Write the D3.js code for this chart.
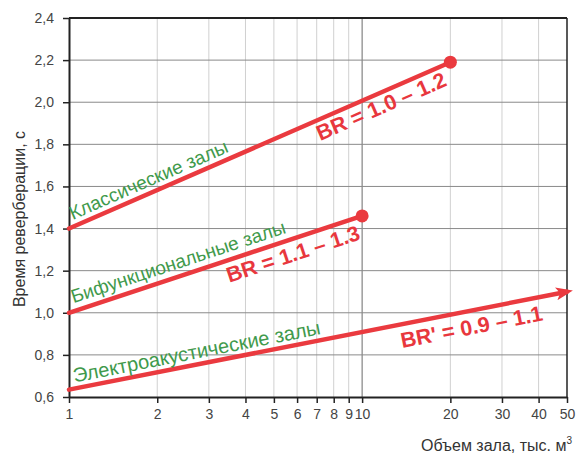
<!DOCTYPE html>
<html>
<head>
<meta charset="utf-8">
<script src="https://cdn.jsdelivr.net/npm/d3@7"></script>
<style>
  body { margin: 0; background: #fff; }
  svg { display: block; font-family: "Liberation Sans", Arial, sans-serif; }
  .tick text { fill: #444; font-size: 14px; }
  .grid-h { stroke: #8a8a8a; stroke-width: 1; }
  .grid-v { stroke: #d0d0d0; stroke-width: 1; }
  .grid-v.major { stroke: #6a6a6a; }
  .hall { fill: none; stroke: #ea3a3f; stroke-width: 4.5; stroke-linecap: round; }
  .name { fill: #3f9a4c; }
  .br { fill: #e8373d; font-size: 21.5px; font-weight: bold; }
</style>
</head>
<body>
<div id="chart"></div>
<script>
// hall volume, thousand m3 (log axis)
var xTicks = [1, 2, 3, 4, 5, 6, 7, 8, 9, 10, 20, 30, 40, 50];
var yTicks = [0.6, 0.8, 1.0, 1.2, 1.4, 1.6, 1.8, 2.0, 2.2, 2.4];

var classicX = [1, 20],  classicY = [1.4, 2.19];
var bifuncX  = [1, 10],  bifuncY  = [1.0, 1.46];
var electroX = [1, 50],  electroY = [0.635, 1.1];

var names = ["Классические залы", "Бифункциональные залы", "Электроакустические залы"];
var ratios = ["BR = 1.0 – 1.2", "BR = 1.1 – 1.3", "BR' = 0.9 – 1.1"];

var width = 579, height = 459;
var margin = {left: 69, right: 12, top: 18, bottom: 62};

var svg = d3.select("#chart").append("svg")
  .attr("width", width)
  .attr("height", height);

var x = d3.scaleLog().domain([1, 50]).range([margin.left, width - margin.right]);
var y = d3.scaleLinear().domain([0.6, 2.4]).range([height - margin.bottom, margin.top]);

// grid
svg.append("g").selectAll("line")
  .data(xTicks.slice(1, -1))
  .enter().append("line")
  .attr("class", function(d){ return d === 10 ? "grid-v major" : "grid-v"; })
  .attr("x1", function(d){ return x(d); })
  .attr("x2", function(d){ return x(d); })
  .attr("y1", y(0.6)).attr("y2", y(2.4));

svg.append("g").selectAll("line")
  .data(yTicks.slice(1, -1))
  .enter().append("line")
  .attr("class", "grid-h")
  .attr("x1", x(1)).attr("x2", x(50))
  .attr("y1", function(d){ return y(d); })
  .attr("y2", function(d){ return y(d); });

// frame top / right
svg.append("line").attr("x1", x(1)).attr("x2", x(50)).attr("y1", y(2.4)).attr("y2", y(2.4))
  .attr("stroke", "#222").attr("stroke-width", 2);
svg.append("line").attr("x1", x(50)).attr("x2", x(50)).attr("y1", y(2.4)).attr("y2", y(0.6))
  .attr("stroke", "#222").attr("stroke-width", 1.5);

// axes
var fmt = function(d){ return d3.format(".1f")(d).replace(".", ","); };

var xAxis = svg.append("g")
  .attr("transform", "translate(0," + y(0.6) + ")")
  .call(d3.axisBottom(x).tickValues(xTicks).tickFormat(d3.format("d")).tickSizeInner(6).tickSizeOuter(0).tickPadding(6));
var yAxis = svg.append("g")
  .attr("transform", "translate(" + x(1) + ",0)")
  .call(d3.axisLeft(y).tickValues(yTicks).tickFormat(fmt).tickSizeInner(6).tickSizeOuter(0).tickPadding(9));

[xAxis, yAxis].forEach(function(a){
  a.select(".domain").attr("stroke", "#222").attr("stroke-width", 2);
  a.selectAll(".tick line").attr("stroke", "#222").attr("stroke-width", 1.5);
  a.selectAll(".tick text").attr("font-family", null).attr("font-size", null);
});

svg.append("text")
  .attr("transform", "translate(25," + 219 + ") rotate(-90)")
  .attr("text-anchor", "middle")
  .attr("fill", "#333").attr("font-size", 16)
  .text("Время реверберации, с");

var xt = svg.append("text")
  .attr("x", 572).attr("y", 451)
  .attr("text-anchor", "end")
  .attr("fill", "#333").attr("font-size", 16)
  .text("Объем зала, тыс. м");
xt.append("tspan").attr("dy", -7).attr("font-size", 10).text("3");

// arrow head
svg.append("defs").append("marker")
  .attr("id", "arrow")
  .attr("markerUnits", "userSpaceOnUse")
  .attr("viewBox", "0 0 17 13")
  .attr("markerWidth", 17).attr("markerHeight", 13)
  .attr("refX", 11).attr("refY", 6.5)
  .attr("orient", "auto")
  .append("path")
  .attr("d", "M0,0 L17,6.5 L0,13 L4,6.5 Z")
  .attr("fill", "#ea3a3f");

// label placement: start x (data), vertical shift from the line, font size
var halls = [
  {xs: classicX, ys: classicY, end: "dot",   name: names[0], ratio: ratios[0],
   nameAt: 1.03,  nameDy: -7, nameSize: 19, ratioAt: 7.2,  ratioDy: 22},
  {xs: bifuncX,  ys: bifuncY,  end: "dot",   name: names[1], ratio: ratios[1],
   nameAt: 1.035, nameDy: -8, nameSize: 19, ratioAt: 3.52, ratioDy: 23},
  {xs: electroX, ys: electroY, end: "arrow", name: names[2], ratio: ratios[2],
   nameAt: 1.045, nameDy: -6, nameSize: 20, ratioAt: 13.7, ratioDy: 24}
];

function place(h, at, dy){
  var x0 = x(h.xs[0]), y0 = y(h.ys[0]), x1 = x(h.xs[1]), y1 = y(h.ys[1]);
  var a = Math.atan2(y1 - y0, x1 - x0) * 180 / Math.PI;
  var px = x(at);
  var py = y0 + (px - x0) / (x1 - x0) * (y1 - y0) + dy;
  return "translate(" + px + "," + py + ") rotate(" + a + ")";
}

halls.forEach(function(h){
  var line = svg.append("line")
    .attr("class", "hall")
    .attr("x1", x(h.xs[0])).attr("y1", y(h.ys[0]))
    .attr("x2", x(h.xs[1])).attr("y2", y(h.ys[1]));
  if (h.end === "dot") {
    svg.append("circle")
      .attr("cx", x(h.xs[1])).attr("cy", y(h.ys[1])).attr("r", 6.5)
      .attr("fill", "#ea3a3f");
  } else {
    line.attr("stroke-linecap", "butt").attr("marker-end", "url(#arrow)");
  }

  svg.append("text").attr("class", "name")
    .attr("font-size", h.nameSize)
    .attr("transform", place(h, h.nameAt, h.nameDy))
    .text(h.name);

  svg.append("text").attr("class", "br")
    .attr("transform", place(h, h.ratioAt, h.ratioDy))
    .text(h.ratio);
});
</script>
</body>
</html>
